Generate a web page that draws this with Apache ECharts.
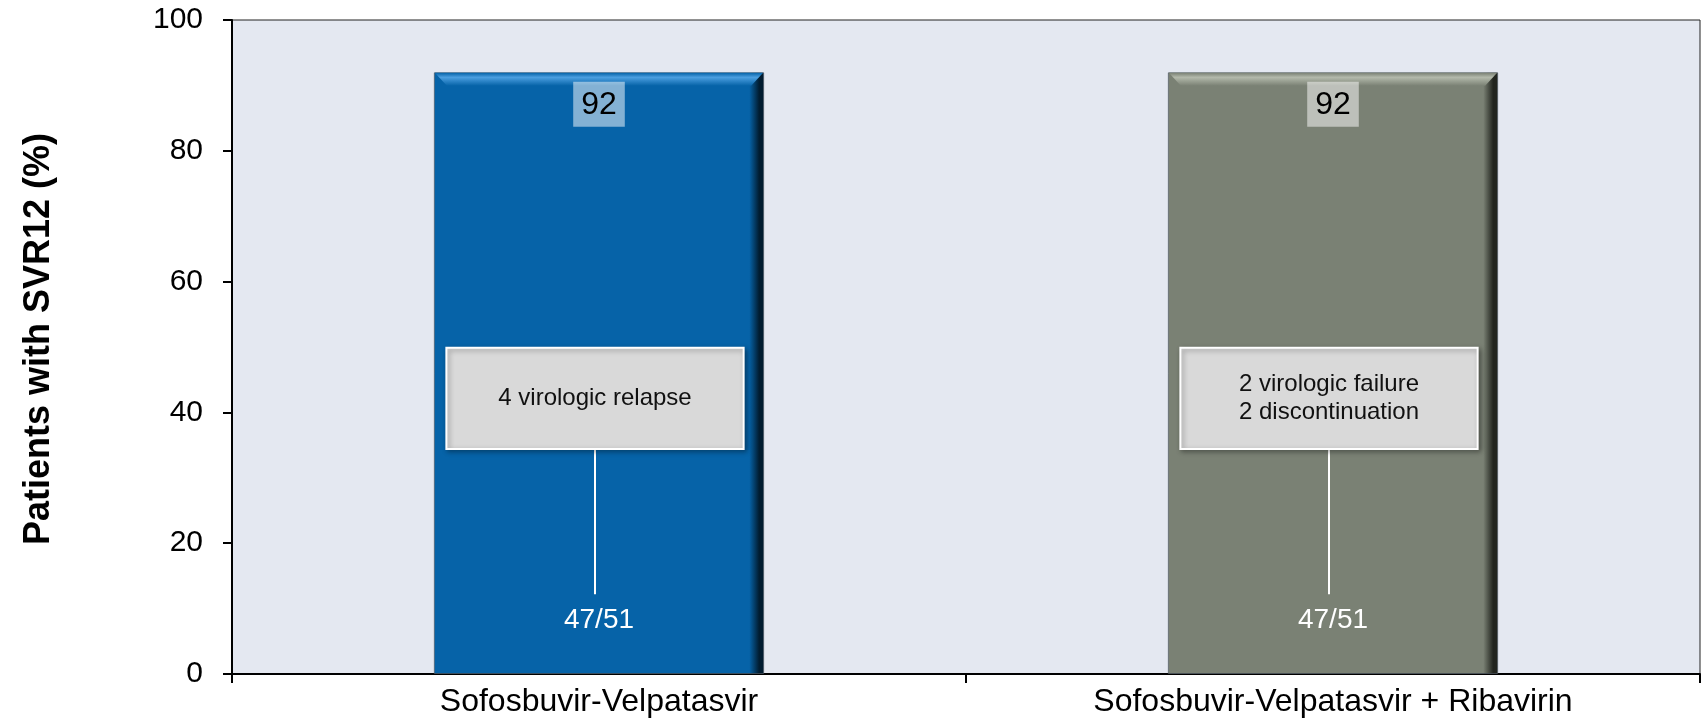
<!DOCTYPE html>
<html>
<head>
<meta charset="utf-8">
<script src="https://cdn.jsdelivr.net/npm/echarts@6/dist/echarts.min.js"></script>
<style>
  html, body { margin: 0; padding: 0; background: #fff; }
  #chart { width: 1704px; height: 722px; }
</style>
</head>
<body>
<div id="chart"></div>
<script>
  // data
  const categories = ['Sofosbuvir-Velpatasvir', 'Sofosbuvir-Velpatasvir + Ribavirin']
  const svr12 = [92, 92] // % patients with SVR12
  const responders = ['47/51', '47/51']
  const notes = ['4 virologic relapse', '2 virologic failure\n2 discontinuation']

  const FONT = '"Liberation Sans", Arial, sans-serif'
  const barColors = ['#0663a8', '#7a8174']
  const edgeColors = ['#011c30', '#22251f']
  const bevelColors = ['#4b9fe0', '#b3b9ab']

  function edgeGradient(main, edge) {
    return new echarts.graphic.LinearGradient(0, 0, 1, 0, [
      { offset: 0, color: main },
      { offset: 0.955, color: main },
      { offset: 0.985, color: edge },
      { offset: 1, color: edge },
    ])
  }

  const chart = echarts.init(document.getElementById('chart'))

  chart.setOption({
    animation: false,
    grid: {
      left: 232,
      right: 4,
      top: 20,
      bottom: 48,
      show: true,
      backgroundColor: '#e4e8f1',
      borderColor: '#222',
      borderWidth: 1,
    },
    xAxis: {
      type: 'category',
      data: categories,
      axisLine: { lineStyle: { color: '#000', width: 2 } },
      axisTick: { show: true, length: 9, lineStyle: { color: '#000', width: 2 } },
      axisLabel: { color: '#000', fontSize: 32, fontFamily: FONT, margin: 12 },
      splitLine: { show: false },
    },
    yAxis: {
      type: 'value',
      min: 0,
      max: 100,
      interval: 20,
      name: 'Patients with SVR12 (%)',
      nameLocation: 'middle',
      nameGap: 175,
      nameTextStyle: {
        color: '#000', fontSize: 36, fontWeight: 'bold', fontFamily: FONT,
        padding: [0, 0, 0, 16],
      },
      axisLine: { show: true, lineStyle: { color: '#000', width: 2 } },
      axisTick: { show: true, length: 9, lineStyle: { color: '#000', width: 2 } },
      axisLabel: { color: '#000', fontSize: 30, fontFamily: FONT, margin: 29 },
      splitLine: { show: false },
    },
    series: [
      {
        type: 'bar',
        barWidth: '45%',
        data: svr12.map((v, i) => ({
          value: v,
          itemStyle: {
            color: edgeGradient(barColors[i], edgeColors[i]),
            borderColor: 'rgba(80,90,100,0.7)',
            borderWidth: 1,
          },
        })),
        label: { show: false },
        z: 2,
      },
      {
        // bevel, value tag, footnote box and responder count on each bar
        type: 'custom',
        z: 3,
        data: svr12.map((v, i) => [i, v]),
        renderItem(params, api) {
          const i = params.dataIndex
          const idx = api.value(0)
          const v = api.value(1)
          const band = api.size([1, 0])[0]
          const w = band * 0.45
          const top = api.coord([idx, v])
          const cx = top[0]
          const x0 = cx - w / 2
          const x1 = cx + w / 2
          const y0 = top[1] + 0.5
          const b = 13
          const boxTop = api.coord([idx, 49.9])[1]
          const boxBot = api.coord([idx, 34.4])[1]
          const lineEnd = api.coord([idx, 12.2])[1]
          const fracY = api.coord([idx, 8.2])[1]
          const boxW = band * 0.405
          const bx = cx - 4
          return {
            type: 'group',
            children: [
              {
                type: 'polygon',
                shape: { points: [[x0 + 1, y0], [x1 - 1, y0], [x1 - b, y0 + b], [x0 + b, y0 + b]] },
                style: {
                  fill: new echarts.graphic.LinearGradient(0, 0, 0, 1, [
                    { offset: 0, color: barColors[i] },
                    { offset: 0.35, color: bevelColors[i] },
                    { offset: 1, color: barColors[i] },
                  ]),
                },
              },
              {
                type: 'line',
                shape: { x1: bx, y1: boxBot, x2: bx, y2: lineEnd },
                style: { stroke: '#fff', lineWidth: 2 },
              },
              {
                type: 'rect',
                shape: { x: bx - boxW / 2, y: boxTop, width: boxW, height: boxBot - boxTop },
                style: {
                  fill: '#d9d9d9',
                  stroke: '#fff',
                  lineWidth: 2,
                  shadowBlur: 5,
                  shadowOffsetX: 2,
                  shadowOffsetY: 2,
                  shadowColor: 'rgba(0,0,0,0.35)',
                },
              },
              {
                type: 'text',
                style: {
                  x: bx,
                  y: (boxTop + boxBot) / 2,
                  text: notes[i],
                  align: 'center',
                  verticalAlign: 'middle',
                  fill: '#111',
                  fontSize: 24,
                  lineHeight: 28,
                  fontFamily: FONT,
                },
              },
              {
                type: 'text',
                style: {
                  x: cx,
                  y: y0 + 9,
                  text: String(v),
                  align: 'center',
                  verticalAlign: 'top',
                  fill: '#000',
                  fontSize: 32,
                  fontFamily: FONT,
                  backgroundColor: 'rgba(255,255,255,0.5)',
                  padding: [7, 8, 6, 8],
                },
              },
              {
                type: 'text',
                style: {
                  x: cx,
                  y: fracY,
                  text: responders[i],
                  align: 'center',
                  verticalAlign: 'middle',
                  fill: '#fff',
                  fontSize: 28,
                  fontFamily: FONT,
                },
              },
            ],
          }
        },
      },
    ],
  })
</script>
</body>
</html>
